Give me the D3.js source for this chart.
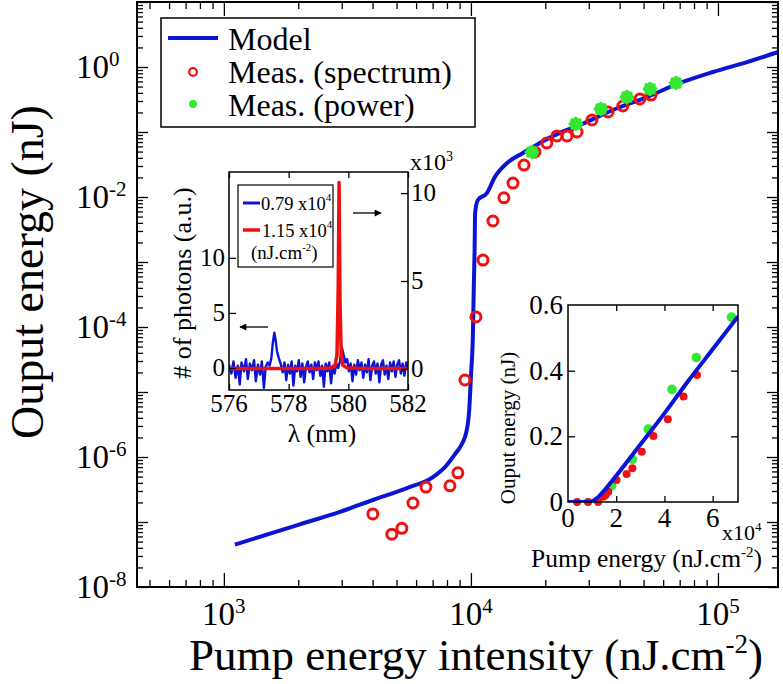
<!DOCTYPE html>
<html><head><meta charset="utf-8">
<script src="https://cdn.jsdelivr.net/npm/d3@7"></script>
<style>
body{margin:0;background:#fff}
svg{display:block}
</style>
</head><body>
<svg id="c" width="783" height="684" font-family="'Liberation Serif', 'Times New Roman', Times, 'DejaVu Serif', serif"></svg>
<script>
// ---------- main chart data ----------
const modelPump = [1108, 2030, 2950, 4010, 5510, 7020, 7850, 8610, 9200, 9600, 9850, 10000, 10190, 10280, 10350, 10400, 10670, 11610, 12500, 14000, 16250, 19000, 22900, 27600, 37600, 51600, 70200, 95500, 131000, 175000];
const modelOut  = [4.5e-8, 9.2e-8, 1.43e-7, 2.18e-7, 3.33e-7, 4.92e-7, 7.0e-7, 1.1e-6, 1.6e-6, 2.5e-6, 5.5e-6, 1.7e-5, 8.1e-5, 4.75e-4, 1.53e-3, 5.7e-3, 9.0e-3, 1.15e-2, 2.03e-2, 3.33e-2, 4.75e-2, 6.8e-2, 9.7e-2, 0.128, 0.218, 0.345, 0.568, 0.838, 1.19, 1.70];
const specPump = [4009, 4786, 5255, 5826, 6576, 8224, 8856, 9460, 10480, 11190, 12280, 13600, 14800, 16400, 18160, 20300, 22300, 24500, 26900, 30900, 35900, 41200, 48300, 53600];
const specOut  = [1.33e-7, 6.5e-8, 8.0e-8, 1.96e-7, 3.45e-7, 3.6e-7, 5.7e-7, 1.53e-5, 1.43e-4, 1.07e-3, 4.27e-3, 9.7e-3, 1.64e-2, 3.1e-2, 4.92e-2, 6.8e-2, 8.7e-2, 8.7e-2, 0.10, 0.153, 0.203, 0.251, 0.322, 0.37];
const powPump = [17660, 26600, 33600, 42800, 53100, 67600];
const powOut  = [0.0492, 0.133, 0.226, 0.345, 0.459, 0.567];
const xTickExp = [3, 4, 5];
const yTickExp = [0, -2, -4, -6, -8];
const legendLabels = ["Model", "Meas. (spectrum)", "Meas. (power)"];

// ---------- inset 1 (spectra) ----------
const lamBlue = [576.00,576.08,576.15,576.22,576.30,576.36,576.42,576.50,576.57,576.63,576.70,576.77,576.84,576.90,576.97,577.04,577.10,577.17,577.23,577.30,577.36,577.42,577.47,577.52,577.56,577.61,577.67,577.73,577.80,577.86,577.92,577.98,578.04,578.10,578.16,578.22,578.28,578.34,578.40,578.46,578.52,578.58,578.64,578.70,578.76,578.82,578.88,578.94,579.00,579.06,579.12,579.18,579.24,579.30,579.36,579.42,579.48,579.54,579.60,579.66,579.72,579.78,579.84,579.90,579.96,580.02,580.08,580.14,580.20,580.26,580.32,580.38,580.44,580.50,580.56,580.62,580.68,580.74,580.80,580.86,580.92,580.98,581.04,581.10,581.16,581.22,581.28,581.34,581.40,581.46,581.52,581.58,581.64,581.70,581.76,581.82,581.88,581.94,582.00];
const cntBlue = [0.3,-0.5,0.6,-0.9,0.2,-1.5,0.5,-0.3,0.8,-1.0,0.4,-0.2,0.7,-1.2,0.3,-0.6,0.6,-1.8,0.1,0.5,0.2,0.9,2.3,3.2,2.6,1.5,0.9,0.4,-0.4,0.5,-1.1,0.3,-0.5,0.6,-1.6,0.2,-0.3,0.7,-0.8,0.4,-1.3,0.1,0.6,-0.4,0.3,-1.0,0.5,-0.2,0.6,-0.7,0.2,-1.7,0.4,-0.3,0.5,-1.4,0.2,-0.5,0.4,0.0,0.6,1.9,1.2,0.5,0.8,-0.3,0.4,-1.2,0.3,-0.6,0.7,-0.2,0.5,-0.9,0.3,-0.4,0.8,-1.1,0.2,0.6,-0.5,0.4,-1.3,0.3,0.7,-0.6,0.2,-1.0,0.5,-0.3,0.6,-0.8,0.3,0.7,-0.5,0.4,-0.7,0.5,0.1];
const lamRed = [576.0, 577.0, 578.0, 579.0, 579.4, 579.55, 579.62, 579.66, 579.69, 579.72, 579.76, 579.82, 579.95, 580.5, 581.0, 582.0];
const cntRed = [0.02, 0.02, 0.02, 0.03, 0.05, 0.15, 0.8, 4.5, 10.6, 4.0, 0.9, 0.2, 0.06, 0.03, 0.02, 0.02];
const lamTicks = [576, 578, 580, 582];
const leftTicks = [0, 5, 10];
const rightTicks = [0, 5, 10];
const specLegend = ["0.79 x10", "1.15 x10", "(nJ.cm"];

// ---------- inset 2 (linear) ----------
const linModelX = [0, 0.9, 1.0, 1.2, 1.5, 2.0, 3.0, 4.0, 5.0, 6.0, 7.05];
const linModelY = [0, 0, 0.002, 0.012, 0.035, 0.08, 0.175, 0.27, 0.37, 0.465, 0.565];
const linSpecX = [0.375, 0.83, 1.25, 1.46, 1.56, 1.67, 2.01, 2.43, 2.67, 3.06, 3.54, 4.14, 4.79, 5.35];
const linSpecY = [0, 0, 0, 0.016, 0.021, 0.031, 0.067, 0.085, 0.103, 0.153, 0.201, 0.252, 0.321, 0.387];
const linPowX = [1.81, 2.67, 3.33, 4.31, 5.32, 6.78];
const linPowY = [0.049, 0.13, 0.222, 0.343, 0.44, 0.563];
const linXTicks = [0, 2, 4, 6];
const linYTicks = [0, 0.2, 0.4, 0.6];

// ---------- styles ----------
const BLUE = "#0a14d6", RED = "#ee1111", GREEN = "#33e833";
const svg = d3.select("#c");
svg.append("rect").attr("width", 783).attr("height", 684).attr("fill", "#fff");

// ---------- main scales ----------
const x = d3.scaleLog().domain([445, 175000]).range([137, 778]);
const y = d3.scaleLog().domain([1e-8, 10]).range([587, 2]);
const [X0, X1] = x.range(), [Y1, Y0] = y.range();

const xMaj = [1e3, 1e4, 1e5];
const xMin = [];
[1e2, 1e3, 1e4, 1e5].forEach(d => { for (let k = 2; k <= 9; k++) { const v = d * k; if (v > 445 && v < 175000) xMin.push(v); } });
const yMaj = [], yMin = [];
for (let e = -8; e <= 1; e++) { yMaj.push(Math.pow(10, e)); if (e < 1) for (let k = 2; k <= 9; k++) yMin.push(k * Math.pow(10, e)); }

function ticks(axisGen, vals, size, tr) {
  const g = svg.append("g").attr("transform", tr)
    .call(axisGen.tickValues(vals).tickSize(size).tickFormat(""));
  g.select(".domain").remove();
  g.selectAll("line").attr("stroke", "#000").attr("stroke-width", 1.3);
  return g;
}
ticks(d3.axisTop(x), xMaj, 14, `translate(0,${Y1})`);
ticks(d3.axisTop(x), xMin, 7, `translate(0,${Y1})`);
ticks(d3.axisBottom(x), xMaj, 14, `translate(0,${Y0})`);
ticks(d3.axisBottom(x), xMin, 7, `translate(0,${Y0})`);
ticks(d3.axisRight(y), yMaj, 11, `translate(${X0},0)`);
ticks(d3.axisRight(y), yMin, 6, `translate(${X0},0)`);
ticks(d3.axisLeft(y), yMaj, 11, `translate(${X1},0)`);
ticks(d3.axisLeft(y), yMin, 6, `translate(${X1},0)`);

// frame
svg.append("rect").attr("x", X0).attr("y", Y0).attr("width", X1 - X0).attr("height", Y1 - Y0)
  .attr("fill", "none").attr("stroke", "#000").attr("stroke-width", 2);

// tick labels
xTickExp.forEach(e => {
  const t = svg.append("text").attr("x", x(Math.pow(10, e))).attr("y", 625)
    .attr("text-anchor", "middle").attr("font-size", 33);
  t.append("tspan").text("10");
  t.append("tspan").attr("dy", -12).attr("font-size", 21).text(e);
});
yTickExp.forEach(e => {
  const t = svg.append("text").attr("x", 76).attr("y", y(Math.pow(10, e)) + 11)
    .attr("font-size", 33);
  t.append("tspan").text("10");
  t.append("tspan").attr("dy", -12).attr("font-size", 21).text(e);
});

// axis titles
{
  const t = svg.append("text").attr("x", 476).attr("y", 670).attr("text-anchor", "middle").attr("font-size", 45);
  t.append("tspan").text("Pump energy intensity (nJ.cm");
  t.append("tspan").attr("dy", -17).attr("font-size", 27).text("-2");
  t.append("tspan").attr("dy", 17).text(")");
}
svg.append("text").attr("transform", "translate(43,272) rotate(-90)").attr("text-anchor", "middle")
  .attr("font-size", 46).text("Ouput energy (nJ)");

// clip
svg.append("clipPath").attr("id", "mainclip").append("rect")
  .attr("x", X0).attr("y", Y0).attr("width", X1 - X0).attr("height", Y1 - Y0);

// model line
const modelData = modelPump.map((d, i) => [d, modelOut[i]]);
svg.append("path").datum(modelData).attr("clip-path", "url(#mainclip)")
  .attr("d", d3.line().curve(d3.curveMonotoneX).x(d => x(d[0])).y(d => y(d[1])))
  .attr("fill", "none").attr("stroke", BLUE).attr("stroke-width", 4).attr("stroke-linejoin", "round");

// spectrum circles
svg.append("g").selectAll("circle").data(specPump.map((d, i) => [d, specOut[i]])).join("circle")
  .attr("cx", d => x(d[0])).attr("cy", d => y(d[1])).attr("r", 5)
  .attr("fill", "none").attr("stroke", RED).attr("stroke-width", 3);

// power markers (burst)
const burst = d3.lineRadial().curve(d3.curveLinearClosed)
  .angle((d, i) => i * Math.PI / 8).radius((d, i) => i % 2 ? 6.2 : 7.6);
const burstPts = d3.range(16);
svg.append("g").selectAll("path").data(powPump.map((d, i) => [d, powOut[i]])).join("path")
  .attr("transform", d => `translate(${x(d[0])},${y(d[1])})`)
  .attr("d", burst(burstPts)).attr("fill", GREEN);

// legend
svg.append("rect").attr("x", 161).attr("y", 18).attr("width", 314).attr("height", 109)
  .attr("fill", "#fff").attr("stroke", "#000").attr("stroke-width", 1.5);
svg.append("line").attr("x1", 168).attr("x2", 218).attr("y1", 38).attr("y2", 38)
  .attr("stroke", BLUE).attr("stroke-width", 4);
svg.append("circle").attr("cx", 193).attr("cy", 72).attr("r", 3.8).attr("fill", "none")
  .attr("stroke", RED).attr("stroke-width", 2.2);
svg.append("circle").attr("cx", 193).attr("cy", 104).attr("r", 4).attr("fill", GREEN);
legendLabels.forEach((l, i) => {
  svg.append("text").attr("x", 228).attr("y", [50, 83, 116][i]).attr("font-size", 32).text(l);
});

// ---------- inset 1 ----------
const xi = d3.scaleLinear().domain([576, 582]).range([229, 408]);
const yl = d3.scaleLinear().domain([-2, 17.8]).range([390, 172]);
const yr = d3.scaleLinear().domain([-1.2, 11.2]).range([390, 172]);
const [IX0, IX1] = xi.range(), [IY1, IY0] = yl.range();
svg.append("rect").attr("x", IX0).attr("y", IY0).attr("width", IX1 - IX0).attr("height", IY1 - IY0).attr("fill", "#fff");
svg.append("clipPath").attr("id", "in1clip").append("rect")
  .attr("x", IX0).attr("y", IY0).attr("width", IX1 - IX0).attr("height", IY1 - IY0);

svg.append("path").datum(lamBlue.map((d, i) => [d, cntBlue[i]])).attr("clip-path", "url(#in1clip)")
  .attr("d", d3.line().x(d => xi(d[0])).y(d => yl(d[1])))
  .attr("fill", "none").attr("stroke", BLUE).attr("stroke-width", 2.4).attr("stroke-linejoin", "round");
svg.append("path").datum(lamRed.map((d, i) => [d, cntRed[i]])).attr("clip-path", "url(#in1clip)")
  .attr("d", d3.line().x(d => xi(d[0])).y(d => yr(d[1])))
  .attr("fill", "none").attr("stroke", RED).attr("stroke-width", 3.5).attr("stroke-linejoin", "round");

ticks(d3.axisTop(xi), lamTicks, 6, `translate(0,${IY1})`);
ticks(d3.axisBottom(xi), lamTicks, 6, `translate(0,${IY0})`);
ticks(d3.axisRight(yl), leftTicks, 7, `translate(${IX0},0)`);
ticks(d3.axisLeft(yr), rightTicks, 7, `translate(${IX1},0)`);
svg.append("rect").attr("x", IX0).attr("y", IY0).attr("width", IX1 - IX0).attr("height", IY1 - IY0)
  .attr("fill", "none").attr("stroke", "#000").attr("stroke-width", 1.5);

lamTicks.forEach(v => svg.append("text").attr("x", xi(v)).attr("y", 412).attr("text-anchor", "middle")
  .attr("font-size", 25).text(v));
leftTicks.forEach(v => svg.append("text").attr("x", 225).attr("y", yl(v) + 8).attr("text-anchor", "end")
  .attr("font-size", 25).text(v));
rightTicks.forEach(v => svg.append("text").attr("x", 411).attr("y", yr(v) + 8)
  .attr("font-size", 25).text(v));
{
  const t = svg.append("text").attr("x", 410).attr("y", 170).attr("font-size", 24);
  t.append("tspan").text("x10");
  t.append("tspan").attr("dy", -9).attr("font-size", 14).text("3");
}
svg.append("text").attr("x", 322).attr("y", 442).attr("text-anchor", "middle").attr("font-size", 25.5).text("λ (nm)");
svg.append("text").attr("transform", "translate(191,283) rotate(-90)").attr("text-anchor", "middle")
  .attr("font-size", 26).text("# of photons (a.u.)");

// inset1 legend
svg.append("rect").attr("x", 238).attr("y", 185).attr("width", 95).attr("height", 82)
  .attr("fill", "#fff").attr("stroke", "#000").attr("stroke-width", 1.2);
svg.append("line").attr("x1", 243).attr("x2", 260).attr("y1", 203).attr("y2", 203).attr("stroke", BLUE).attr("stroke-width", 3);
svg.append("line").attr("x1", 243).attr("x2", 260).attr("y1", 230).attr("y2", 230).attr("stroke", RED).attr("stroke-width", 3.5);
[[261, 210, "4"], [262, 237, "4"]].forEach((p, i) => {
  const t = svg.append("text").attr("x", p[0]).attr("y", p[1]).attr("font-size", 18.5);
  t.append("tspan").text(specLegend[i]);
  t.append("tspan").attr("dy", -9).attr("font-size", 11).text(p[2]);
});
{
  const t = svg.append("text").attr("x", 251).attr("y", 259).attr("font-size", 19);
  t.append("tspan").text(specLegend[2]);
  t.append("tspan").attr("dy", -8).attr("font-size", 11).text("-2");
  t.append("tspan").attr("dy", 8).text(")");
}
// arrows
svg.append("defs").append("marker").attr("id", "ah").attr("viewBox", "0 0 10 10").attr("refX", 9).attr("refY", 5)
  .attr("markerWidth", 9).attr("markerHeight", 7).attr("markerUnits", "userSpaceOnUse").attr("orient", "auto")
  .append("path").attr("d", "M0,0L10,5L0,10z").attr("fill", "#000");
svg.append("line").attr("x1", 353).attr("x2", 381).attr("y1", 213).attr("y2", 213)
  .attr("stroke", "#000").attr("stroke-width", 1.3).attr("marker-end", "url(#ah)");
svg.append("line").attr("x1", 268).attr("x2", 240).attr("y1", 327).attr("y2", 327)
  .attr("stroke", "#000").attr("stroke-width", 1.3).attr("marker-end", "url(#ah)");

// ---------- inset 2 ----------
const xl = d3.scaleLinear().domain([0, 7.05]).range([568, 738]);
const yv = d3.scaleLinear().domain([0, 0.6]).range([502, 305]);
const [LX0, LX1] = xl.range(), [LY1, LY0] = yv.range();
svg.append("rect").attr("x", LX0).attr("y", LY0).attr("width", LX1 - LX0).attr("height", LY1 - LY0).attr("fill", "#fff");
svg.append("clipPath").attr("id", "in2clip").append("rect")
  .attr("x", LX0).attr("y", LY0 - 6).attr("width", LX1 - LX0).attr("height", LY1 - LY0 + 6);

ticks(d3.axisTop(xl), [2, 4, 6], 6, `translate(0,${LY1})`);
ticks(d3.axisBottom(xl), [2, 4, 6], 6, `translate(0,${LY0})`);
ticks(d3.axisRight(yv), [0.2, 0.4], 7, `translate(${LX0},0)`);
ticks(d3.axisLeft(yv), [0.2, 0.4], 7, `translate(${LX1},0)`);

svg.append("g").selectAll("circle").data(linPowX.map((d, i) => [d, linPowY[i]])).join("circle")
  .attr("cx", d => xl(d[0])).attr("cy", d => yv(d[1])).attr("r", 4.8).attr("fill", GREEN);
svg.append("g").selectAll("circle").data(linSpecX.map((d, i) => [d, linSpecY[i]])).join("circle")
  .attr("cx", d => xl(d[0])).attr("cy", d => yv(d[1])).attr("r", 4).attr("fill", RED);
svg.append("path").datum(linModelX.map((d, i) => [d, linModelY[i]])).attr("clip-path", "url(#in2clip)")
  .attr("d", d3.line().curve(d3.curveMonotoneX).x(d => xl(d[0])).y(d => yv(d[1])))
  .attr("fill", "none").attr("stroke", BLUE).attr("stroke-width", 4).attr("stroke-linejoin", "round");

svg.append("rect").attr("x", LX0).attr("y", LY0).attr("width", LX1 - LX0).attr("height", LY1 - LY0)
  .attr("fill", "none").attr("stroke", "#000").attr("stroke-width", 1.5);

linXTicks.forEach(v => svg.append("text").attr("x", xl(v)).attr("y", 527).attr("text-anchor", "middle")
  .attr("font-size", 27).text(v));
linYTicks.forEach(v => svg.append("text").attr("x", 563).attr("y", yv(v) + 9).attr("text-anchor", "end")
  .attr("font-size", 27).text(v === 0 ? "0" : v.toFixed(1)));
{
  const t = svg.append("text").attr("x", 722).attr("y", 540).attr("font-size", 22);
  t.append("tspan").text("x10");
  t.append("tspan").attr("dy", -9).attr("font-size", 13).text("4");
}
{
  const t = svg.append("text").attr("x", 762).attr("y", 567).attr("text-anchor", "end").attr("font-size", 25.5);
  t.append("tspan").text("Pump energy (nJ.cm");
  t.append("tspan").attr("dy", -10).attr("font-size", 15).text("-2");
  t.append("tspan").attr("dy", 10).text(")");
}
svg.append("text").attr("transform", "translate(515,428) rotate(-90)").attr("text-anchor", "middle")
  .attr("font-size", 21).text("Ouput energy (nJ)");
</script>
</body></html>
